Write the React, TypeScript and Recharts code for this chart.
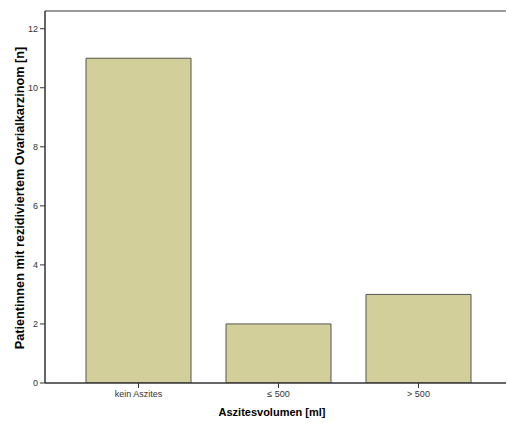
import { BarChart, Bar, XAxis, YAxis, ReferenceLine } from "recharts";

const categories = ["kein Aszites", "≤ 500", "> 500"];
const patientCounts = [11, 2, 3];
const yTicks = [0, 2, 4, 6, 8, 10, 12];
const yMax = 12.6;

const data = categories.map((name, i) => ({ name, value: patientCounts[i] }));

const axisTick = { fill: "#333", fontSize: 9, fontFamily: "Liberation Sans, Arial, sans-serif" };
const titleFont = "Liberation Sans, Arial, sans-serif";

export default function App() {
  return (
    <div style={{ position: "absolute", left: 0, top: 0, width: 507, height: 423, background: "#fff" }}>
      <BarChart
        width={507}
        height={423}
        data={data}
        margin={{ top: 11, right: 1, left: 0, bottom: 10 }}
        barCategoryGap="12.5%"
      >
        <XAxis
          dataKey="name"
          height={30}
          padding={{ left: 23.5, right: 17.5 }}
          axisLine={{ stroke: "#333", strokeWidth: 1.5 }}
          tickLine={{ stroke: "#333" }}
          tickSize={5}
          tickMargin={3}
          tick={axisTick}
          interval={0}
          label={{
            content: () => (
              <text
                x={272}
                y={416}
                textAnchor="middle"
                fontFamily={titleFont}
                fontSize={11}
                fontWeight="bold"
                fill="#000"
              >
                Aszitesvolumen [ml]
              </text>
            ),
          }}
        />
        <YAxis
          type="number"
          width={45}
          domain={[0, yMax]}
          allowDataOverflow
          ticks={yTicks}
          axisLine={{ stroke: "#333", strokeWidth: 1.5 }}
          tickLine={{ stroke: "#333" }}
          tickSize={5}
          tickMargin={2}
          tick={axisTick}
          label={{
            content: () => (
              <text
                x={24}
                y={198}
                transform="rotate(-90 24 198)"
                textAnchor="middle"
                fontFamily={titleFont}
                fontSize={12.7}
                fontWeight="bold"
                fill="#000"
              >
                Patientinnen mit rezidiviertem Ovarialkarzinom [n]
              </text>
            ),
          }}
        />
        <ReferenceLine y={yMax} stroke="#777" strokeWidth={1.5} />
        <Bar
          dataKey="value"
          fill="#D3CF9A"
          stroke="#555"
          strokeWidth={1}
          isAnimationActive={false}
        />
      </BarChart>
    </div>
  );
}
